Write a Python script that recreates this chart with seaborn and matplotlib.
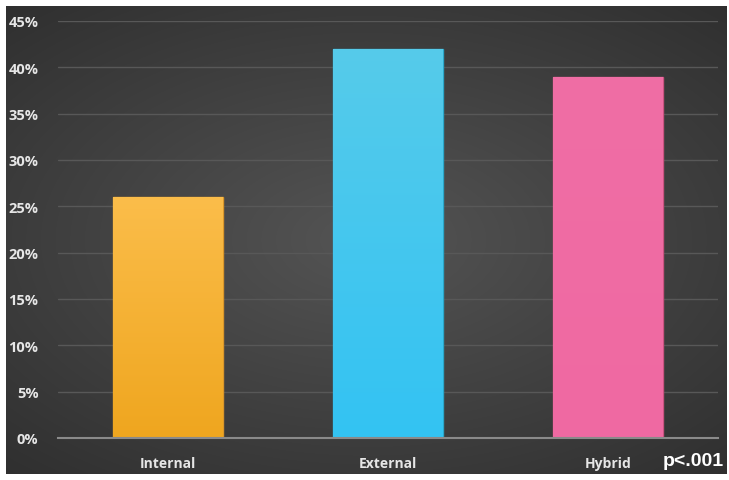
import numpy as np
import pandas as pd
import matplotlib
matplotlib.use("Agg")
import matplotlib.pyplot as plt
import seaborn as sns
from matplotlib.ticker import FuncFormatter
from matplotlib.colors import to_rgb

categories = ["Internal", "External", "Hybrid"]
values = [0.26, 0.42, 0.39]
colors = ["#fbb52c", "#4ec8ee", "#f06ba3"]
top_colors = ["#fbbd4a", "#56cbea", "#f06ea5"]
bottom_colors = ["#efa61f", "#33c3f3", "#ef69a2"]
edge_colors = ["#d9962a", "#2aa6c8", "#c9527f"]
yticks = [0, 0.05, 0.10, 0.15, 0.20, 0.25, 0.30, 0.35, 0.40, 0.45]

sns.set_theme(style="dark")
plt.rcParams['font.family'] = ['Open Sans', 'DejaVu Sans']

W, H = 729, 481
fig = plt.figure(figsize=(W / 100, H / 100), dpi=100)
fig.patch.set_facecolor("white")

# dark gradient background panel
bg = fig.add_axes([6 / W, 6 / H, 721 / W, 468 / H])
yy, xx = np.mgrid[-1:1:300j, -1:1:450j]
r = np.sqrt((xx * 0.9) ** 2 + (yy * 1.0) ** 2)
g = 0.33 - 0.16 * np.clip(r, 0, 1.5) / 1.5
img = np.dstack([g, g, g])
bg.imshow(img, aspect="auto", extent=[0, 1, 0, 1], interpolation="bilinear")
bg.set_axis_off()

ax = fig.add_axes([58 / W, 42 / H, 660 / W, 417 / H])
ax.set_facecolor("none")
df = pd.DataFrame({"cat": categories, "val": values})
sns.barplot(data=df, x="cat", y="val", hue="cat", palette=colors,
            width=0.5, ax=ax, legend=False, saturation=1)
for p, ec, tc, bc in zip(ax.patches, edge_colors, top_colors, bottom_colors):
    p.set_edgecolor(ec)
    p.set_linewidth(1.0)
    p.set_zorder(3)
    x0, y0 = p.get_x(), p.get_y()
    w, h = p.get_width(), p.get_height()
    t = np.linspace(0, 1, 100)[:, None]
    grad = (1 - t) * np.array(to_rgb(tc)) + t * np.array(to_rgb(bc))
    grad = grad[:, None, :]
    im = ax.imshow(grad, aspect="auto", extent=[x0, x0 + w, y0, y0 + h],
                   origin="upper", zorder=3.5, interpolation="bilinear")
    im.set_clip_path(p)

ax.set_xlim(-0.5, 2.5)
ax.set_ylim(0, 0.45)
ax.set_yticks(yticks)
ax.yaxis.set_major_formatter(FuncFormatter(lambda v, _: f"{round(v * 100)}%"))
ax.grid(axis="y", color="#585858", linewidth=1.0, zorder=0)
ax.grid(axis="x", visible=False)
ax.set_axisbelow(True)
for s in ["top", "right", "left"]:
    ax.spines[s].set_visible(False)
ax.spines["bottom"].set_color("#8a8a8a")
ax.spines["bottom"].set_linewidth(1.5)
ax.spines["bottom"].set_zorder(4)
ax.set_xlabel("")
ax.set_ylabel("")
ax.tick_params(axis="both", length=0)
ax.tick_params(axis="y", pad=14, labelsize=10.5, labelcolor="#e6e6e6")
ax.tick_params(axis="x", pad=13, labelsize=10, labelcolor="#e6e6e6")
for t in ax.get_yticklabels() + ax.get_xticklabels():
    t.set_fontweight("bold")

fig.text(724 / W, 1 - 462 / H, "p<.001", ha="right", va="center",
         fontsize=14, fontweight="bold", color="white",
         family=["Liberation Sans Narrow", "Liberation Sans", "DejaVu Sans"])

fig.savefig("out.png", dpi=100)
